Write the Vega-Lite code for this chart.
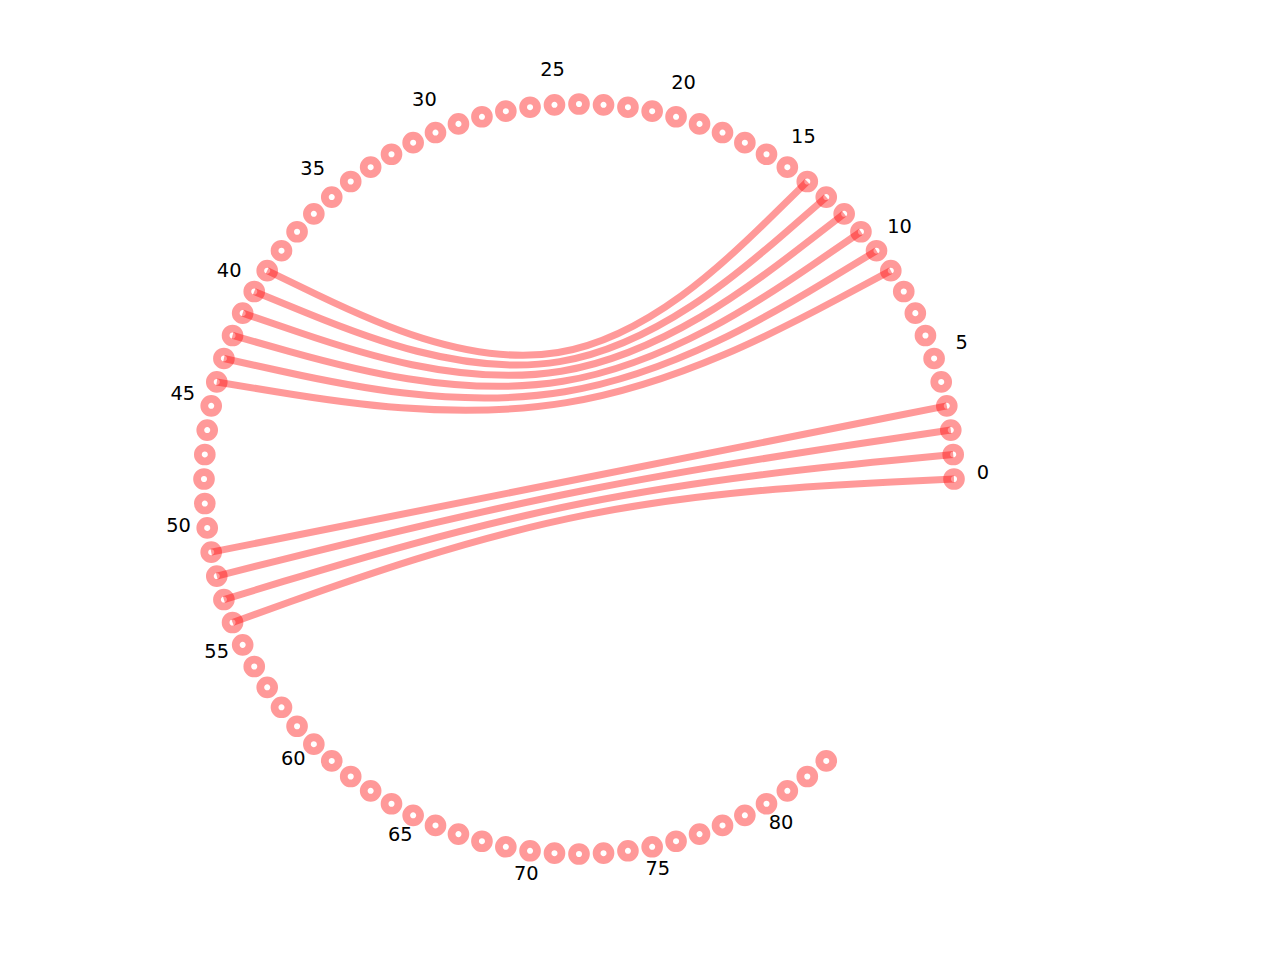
{
  "$schema": "https://vega.github.io/schema/vega-lite/v6.json",
  "width": 1280,
  "height": 960,
  "padding": 0,
  "autosize": {"type": "none"},
  "background": "white",
  "config": {"view": {"stroke": null}},
  "datasets": {
    "nodes": [
      {"node": 0}, {"node": 1}, {"node": 2}, {"node": 3}, {"node": 4}, {"node": 5}, {"node": 6}, {"node": 7},
      {"node": 8}, {"node": 9}, {"node": 10}, {"node": 11}, {"node": 12}, {"node": 13}, {"node": 14}, {"node": 15},
      {"node": 16}, {"node": 17}, {"node": 18}, {"node": 19}, {"node": 20}, {"node": 21}, {"node": 22}, {"node": 23},
      {"node": 24}, {"node": 25}, {"node": 26}, {"node": 27}, {"node": 28}, {"node": 29}, {"node": 30}, {"node": 31},
      {"node": 32}, {"node": 33}, {"node": 34}, {"node": 35}, {"node": 36}, {"node": 37}, {"node": 38}, {"node": 39},
      {"node": 40}, {"node": 41}, {"node": 42}, {"node": 43}, {"node": 44}, {"node": 45}, {"node": 46}, {"node": 47},
      {"node": 48}, {"node": 49}, {"node": 50}, {"node": 51}, {"node": 52}, {"node": 53}, {"node": 54}, {"node": 55},
      {"node": 56}, {"node": 57}, {"node": 58}, {"node": 59}, {"node": 60}, {"node": 61}, {"node": 62}, {"node": 63},
      {"node": 64}, {"node": 65}, {"node": 66}, {"node": 67}, {"node": 68}, {"node": 69}, {"node": 70}, {"node": 71},
      {"node": 72}, {"node": 73}, {"node": 74}, {"node": 75}, {"node": 76}, {"node": 77}, {"node": 78}, {"node": 79},
      {"node": 80}, {"node": 81}, {"node": 82}, {"node": 83}
    ],
    "edges": [
      {"source": 0, "target": 54},
      {"source": 1, "target": 53},
      {"source": 2, "target": 52},
      {"source": 3, "target": 51},
      {"source": 9, "target": 44},
      {"source": 10, "target": 43},
      {"source": 11, "target": 42},
      {"source": 12, "target": 41},
      {"source": 13, "target": 40},
      {"source": 14, "target": 39}
    ]
  },
  "layer": [
    {
      "data": {"name": "nodes"},
      "transform": [
        {"calculate": "datum.node * 2 * PI / 96", "as": "angle"},
        {"calculate": "cos(datum.angle)", "as": "x"},
        {"calculate": "sin(datum.angle)", "as": "y"}
      ],
      "mark": {
        "type": "point",
        "shape": "circle",
        "filled": false,
        "size": 192,
        "strokeWidth": 7.8,
        "color": "#ff0000",
        "opacity": 1,
        "strokeOpacity": 0.4
      },
      "encoding": {
        "x": {"field": "x", "type": "quantitative", "scale": {"domain": [-1.544, 1.86933], "nice": false, "zero": false}, "axis": null},
        "y": {"field": "y", "type": "quantitative", "scale": {"domain": [-1.28267, 1.27733], "nice": false, "zero": false}, "axis": null}
      }
    },
    {
      "data": {"name": "edges"},
      "transform": [
        {"calculate": "null", "as": "hub"},
        {"fold": ["source", "hub", "target"], "as": ["end", "node"]},
        {"calculate": "indexof(['source', 'hub', 'target'], datum.end)", "as": "step"},
        {"calculate": "datum.node == null ? 0 : cos(datum.node * 2 * PI / 96)", "as": "x"},
        {"calculate": "datum.node == null ? 0 : sin(datum.node * 2 * PI / 96)", "as": "y"}
      ],
      "mark": {
        "type": "line",
        "interpolate": "bundle",
        "tension": 0.75,
        "color": "#ff0000",
        "opacity": 0.4,
        "strokeWidth": 7,
        "strokeCap": "butt"
      },
      "encoding": {
        "x": {"field": "x", "type": "quantitative"},
        "y": {"field": "y", "type": "quantitative"},
        "detail": {"field": "source", "type": "nominal"},
        "order": {"field": "step", "type": "quantitative"}
      }
    },
    {
      "data": {"name": "nodes"},
      "transform": [
        {"filter": "datum.node % 5 == 0"},
        {"calculate": "datum.node * 2 * PI / 96", "as": "angle"},
        {"calculate": "1.0773 * cos(datum.angle)", "as": "x"},
        {"calculate": "1.0773 * sin(datum.angle)", "as": "y"}
      ],
      "mark": {
        "type": "text",
        "font": "DejaVu Sans",
        "fontSize": 19.4,
        "color": "black",
        "align": "center",
        "baseline": "middle",
        "dy": -6
      },
      "encoding": {
        "x": {"field": "x", "type": "quantitative"},
        "y": {"field": "y", "type": "quantitative"},
        "text": {"field": "node", "type": "quantitative"}
      }
    }
  ]
}
